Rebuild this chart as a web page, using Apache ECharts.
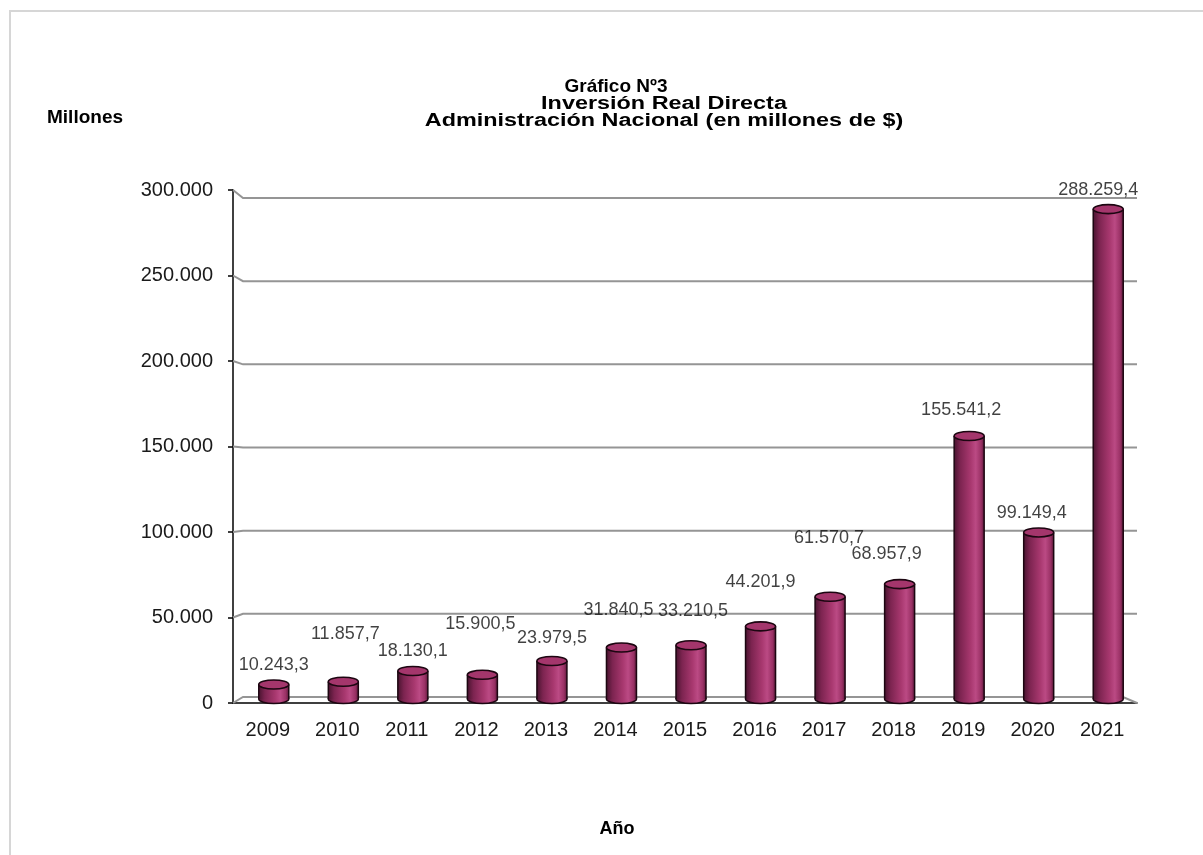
<!DOCTYPE html>
<html><head><meta charset="utf-8">
<script src="https://cdn.jsdelivr.net/npm/echarts/dist/echarts.min.js"></script>
<style>html,body{margin:0;padding:0;background:#fff}#c{width:1203px;height:855px}</style>
</head><body><div id="c"></div>
<script>
const years = ['2009','2010','2011','2012','2013','2014','2015','2016','2017','2018','2019','2020','2021'];
const values = [10243.3, 11857.7, 18130.1, 15900.5, 23979.5, 31840.5, 33210.5, 44201.9, 61570.7, 68957.9, 155541.2, 99149.4, 288259.4];
const yTicks = [0, 50000, 100000, 150000, 200000, 250000, 300000];
const titleLines = ['Gráfico Nº3', 'Inversión Real Directa', 'Administración Nacional (en millones de $)'];
const yName = 'Millones';
const xName = 'Año';
// label placement (style): offset of each value label from its bar top
const labelOffsets = [[6,-20],[8,-49],[6,-21],[4,-52],[6,-24],[3,-39],[8,-35],[6,-45],[5,-60],[-7,-31],[-2,-27],[-1,-20],[-4,-20]];

const FONT = "'Liberation Sans', Arial, sans-serif";
const yMin = yTicks[0], yMax = yTicks[yTicks.length - 1];

function fmtNum(v, dec) {
  const s = v.toFixed(dec);
  const parts = s.split('.');
  const ip = parts[0].replace(/\B(?=(\d{3})+(?!\d))/g, '.');
  return parts.length > 1 ? ip + ',' + parts[1] : ip;
}

function renderBar(params, api) {
  const i = api.value(0), v = api.value(1);
  const top = api.coord([i, v]);
  const base = api.coord([i, 0]);
  const w = 30, ry = 4.5;
  const cx = top[0] + 6;
  const yb = base[1] - 4;
  const yt = top[1] - 1;
  const mk = () => new echarts.graphic.LinearGradient(0, 0, 1, 0, [
    {offset: 0, color: '#4a1430'},
    {offset: 0.2, color: '#7c2450'},
    {offset: 0.55, color: '#a8386f'},
    {offset: 0.72, color: '#bb4a84'},
    {offset: 0.9, color: '#9a3165'},
    {offset: 1, color: '#5e1a3c'}
  ]);
  const edge = '#1c0611';
  return {type: 'group', children: [
    {type: 'ellipse', shape: {cx: cx, cy: yb, rx: w / 2, ry: ry}, style: {fill: mk(), stroke: edge, lineWidth: 1.5}},
    {type: 'rect', shape: {x: cx - w / 2, y: yt, width: w, height: yb - yt}, style: {fill: mk()}},
    {type: 'line', shape: {x1: cx - w / 2, y1: yt, x2: cx - w / 2, y2: yb}, style: {stroke: edge, lineWidth: 1.5}},
    {type: 'line', shape: {x1: cx + w / 2, y1: yt, x2: cx + w / 2, y2: yb}, style: {stroke: edge, lineWidth: 1.5}},
    {type: 'ellipse', shape: {cx: cx, cy: yt, rx: w / 2, ry: ry}, style: {fill: '#a4366c', stroke: edge, lineWidth: 1.6}}
  ]};
}

function renderGrid(params, api) {
  const v = api.value(1);
  const cs = params.coordSys;
  const yf = api.coord([0, v])[1];
  const left = cs.x, right = cs.x + cs.width;
  const backBottom = cs.y + cs.height - 6, backTop = cs.y + 8;
  const yb = backBottom - (v - yMin) / (yMax - yMin) * (backBottom - backTop);
  const pts = v === yMin
    ? [[left, yf], [left + 10, yb], [right - 14, yb], [right, yf]]
    : [[left, yf], [left + 10, yb], [right, yb]];
  return {type: 'polyline', shape: {points: pts}, style: {stroke: '#959595', lineWidth: 2, fill: null}};
}

const chart = echarts.init(document.getElementById('c'), null, {renderer: 'canvas'});
chart.setOption({
  animation: false,
  backgroundColor: '#fff',
  grid: {left: 233, right: 66, top: 190, bottom: 152, containLabel: false},
  xAxis: {
    type: 'category', data: years, boundaryGap: true,
    axisLine: {lineStyle: {color: '#000', width: 1.5}},
    axisTick: {length: 6, lineStyle: {color: '#000', width: 1.5}},
    axisLabel: {fontFamily: FONT, fontSize: 20, color: '#1a1a1a', margin: 17}
  },
  yAxis: {
    type: 'value', min: yMin, max: yMax, interval: 50000,
    axisLine: {show: true, lineStyle: {color: '#000', width: 1.5}},
    axisTick: {show: true, length: 5, lineStyle: {color: '#000', width: 1.5}},
    splitLine: {show: false},
    axisLabel: {fontFamily: FONT, fontSize: 20, color: '#1a1a1a', margin: 20, formatter: v => fmtNum(v, 0)}
  },
  graphic: [
    {type: 'rect', silent: true, shape: {x: 10, y: 11, width: 1400, height: 1000}, style: {fill: null, stroke: '#d6d6d6', lineWidth: 2}},
    {type: 'text', x: 616, y: 87, style: {text: titleLines[0], font: 'bold 19px ' + FONT, fill: '#000', textAlign: 'center', textVerticalAlign: 'middle'}},
    {type: 'text', x: 664, y: 104, scaleX: 1.3, style: {text: titleLines[1], font: 'bold 18px ' + FONT, fill: '#000', textAlign: 'center', textVerticalAlign: 'middle'}},
    {type: 'text', x: 664, y: 121, scaleX: 1.3, style: {text: titleLines[2], font: 'bold 18px ' + FONT, fill: '#000', textAlign: 'center', textVerticalAlign: 'middle'}},
    {type: 'text', x: 47, y: 118, style: {text: yName, font: 'bold 19px ' + FONT, fill: '#000', textAlign: 'left', textVerticalAlign: 'middle'}},
    {type: 'text', x: 617, y: 829, style: {text: xName, font: 'bold 18px ' + FONT, fill: '#000', textAlign: 'center', textVerticalAlign: 'middle'}}
  ],
  series: [
    {type: 'custom', silent: true, z: 1, renderItem: renderGrid, clip: false,
     data: yTicks.map(v => [0, v])},
    {type: 'custom', z: 3, renderItem: renderBar, clip: false,
     data: values.map((v, i) => [i, v])},
    {type: 'scatter', z: 4, symbolSize: 0, silent: true,
     data: values.map((v, i) => ({value: [i, v], label: {offset: labelOffsets[i]}})),
     label: {show: true, position: 'inside', fontFamily: FONT, fontSize: 18, color: '#111',
             formatter: p => fmtNum(p.value[1], 1)}}
  ]
});
</script>
</body></html>
